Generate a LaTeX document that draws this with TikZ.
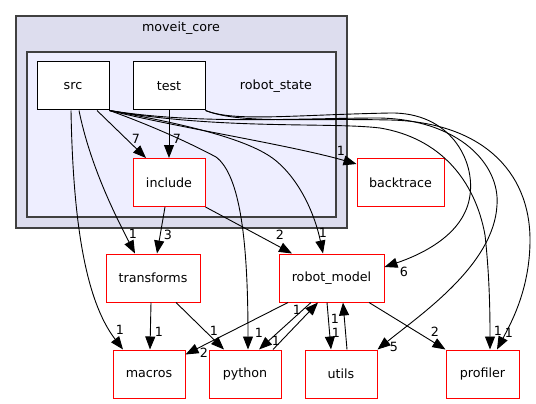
\documentclass[tikz,border=0pt]{standalone}
\usepackage{fontspec}
\setmainfont{DejaVu Sans}
\usetikzlibrary{arrows.meta}

\begin{document}
\begin{tikzpicture}[x=1pt, y=-1pt,
  every node/.style={font=\fontsize{12.7}{15}\selectfont},
  dirbox/.style={draw=black, fill=white, line width=1pt, minimum width=72pt, minimum height=48pt, inner sep=0pt},
  extbox/.style={dirbox, draw=red},
  dep/.style={line width=0.9pt, -{Triangle[length=13pt, width=10pt]}},
  num/.style={inner sep=0pt}]
  % colors close to the figure
  \definecolor{clusterouter}{RGB}{221,221,238}
  \definecolor{clusterinner}{RGB}{238,238,255}
  \definecolor{clusterline}{RGB}{64,64,64}

  \useasboundingbox (0,0) rectangle (536,404);

  % clusters
  \filldraw[fill=clusterouter, draw=clusterline, line width=1.3pt] (16,16) rectangle (347,228);
  \node (moveit) at (181,28) {moveit\_core};
  \filldraw[fill=clusterinner, draw=clusterline, line width=1.3pt] (27,52) rectangle (336,217);
  \node (robotstate) at (276,86) {robot\_state};

  % directories
  \node[dirbox] (src) at (73,86) {src};
  \node[dirbox] (test) at (169,86) {test};
  \node[extbox] (include) at (169,182.5) {include};
  \node[extbox, minimum width=87pt] (backtrace) at (400.5,182.5) {backtrace};
  \node[extbox, minimum width=94pt] (transforms) at (153,278) {transforms};
  \node[extbox, minimum width=105pt] (robotmodel) at (331.5,278) {robot\_model};
  \node[extbox] (macros) at (149,374) {macros};
  \node[extbox] (python) at (245,374) {python};
  \node[extbox] (utils) at (341,374) {utils};
  \node[extbox, minimum width=73pt] (profiler) at (482.5,374) {profiler};

  % dependencies out of the cluster
  \draw[dep] ([xshift=24pt]src.south) -- ([xshift=-23pt]include.north);
  \draw[dep] (test.south) -- (include.north);
  \draw[dep] (src.south east) .. controls (180,128) and (290,145) .. ([yshift=18.5pt]backtrace.west);
  \draw[dep] ([xshift=6pt]src.south) .. controls (90,165) and (115,215) .. ([xshift=-18pt]transforms.north);
  \draw[dep] ([xshift=-2pt]src.south) .. controls (73,220) and (85,300) .. ([xshift=-26pt]macros.north);
  \draw[dep] (src.south east) .. controls (150,125) and (190,143) .. (216,157)
    .. controls (240,175) and (248,240) .. ([xshift=3pt]python.north);
  \draw[dep] (src.south east) .. controls (190,125) and (250,140) .. (275,160)
    .. controls (300,180) and (315,215) .. ([xshift=-8.5pt]robotmodel.north);
  \draw[dep] ([xshift=-4pt]include.south) -- ([xshift=4pt]transforms.north);
  \draw[dep] (include.south east) -- ([xshift=-39.5pt]robotmodel.north);

  % long curves on the right
  \draw[dep] (test.south east) .. controls (235,122) and (290,115) .. (390,113)
    .. controls (450,112) and (475,160) .. (470,195)
    .. controls (465,235) and (420,255) .. ([yshift=11pt]robotmodel.east);
  \draw[dep] (src.south east) .. controls (200,125) and (300,118) .. (380,118)
    .. controls (460,120) and (500,165) .. (497,205)
    .. controls (494,265) and (420,315) .. (utils.north east);
  \draw[dep] (src.south east) .. controls (220,130) and (330,122) .. (380,128)
    .. controls (440,138) and (475,180) .. (485,235)
    .. controls (490,280) and (490,320) .. ([xshift=7.5pt]profiler.north);
  \draw[dep] (test.south east) .. controls (240,124) and (300,118) .. (390,120)
    .. controls (480,122) and (530,170) .. (530,240)
    .. controls (530,290) and (510,325) .. ([xshift=14.5pt]profiler.north);

  % bottom row
  \draw[dep] ([xshift=-2pt]transforms.south) -- ([xshift=1pt]macros.north);
  \draw[dep] ([xshift=23pt]transforms.south) -- ([xshift=-21pt]python.north);
  \draw[dep] ([xshift=-43.5pt]robotmodel.south) -- ([yshift=-5pt]macros.north east);
  \draw[dep] ([xshift=-20.5pt]robotmodel.south) -- ([xshift=14pt]python.north);
  \draw[dep] ([xshift=28pt]python.north) -- ([xshift=-13.5pt]robotmodel.south);
  \draw[dep] ([xshift=-4.5pt]robotmodel.south) -- ([xshift=-10pt]utils.north);
  \draw[dep] ([xshift=6pt]utils.north) -- ([xshift=11.5pt]robotmodel.south);
  \draw[dep] ([xshift=37.5pt]robotmodel.south) -- (profiler.north west);

  % counts
  \node[num] (n1) at (136,139) {7};
  \node[num] (n2) at (177,139) {7};
  \node[num] (n3) at (341,151) {1};
  \node[num] (n4) at (133,234) {1};
  \node[num] (n5) at (120,330) {1};
  \node[num] (n6) at (259,333) {1};
  \node[num] (n7) at (323,233) {1};
  \node[num] (n8) at (168,235) {3};
  \node[num] (n9) at (280,235) {2};
  \node[num] (n10) at (404,272) {6};
  \node[num] (n11) at (394,347) {5};
  \node[num] (n12) at (498,331) {1};
  \node[num] (n13) at (509,333) {1};
  \node[num] (n14) at (159,332) {1};
  \node[num] (n15) at (214,331) {1};
  \node[num] (n16) at (204,353) {2};
  \node[num] (n17) at (276,341) {1};
  \node[num] (n18) at (297,310) {1};
  \node[num] (n19) at (336,333) {1};
  \node[num] (n20) at (335,319) {1};
  \node[num] (n21) at (435,332) {2};
\end{tikzpicture}
\end{document}
